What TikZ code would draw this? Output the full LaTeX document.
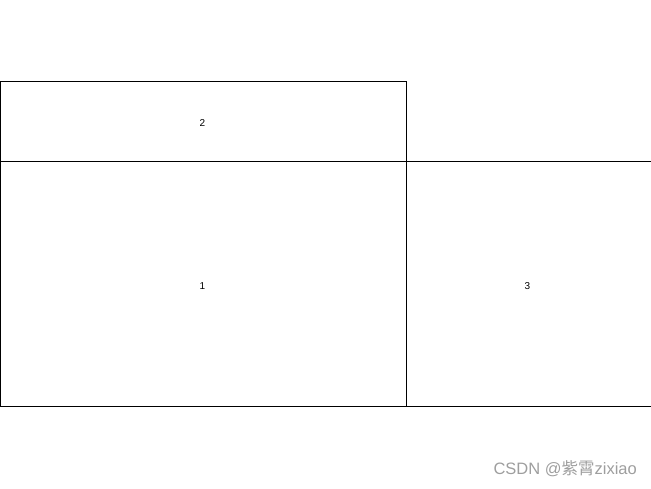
\documentclass[tikz,border=0pt]{standalone}
\usepackage{fontspec}
\setmainfont{Liberation Sans}
\newfontfamily\cjkfont{Noto Sans CJK SC}
\begin{document}
\begin{tikzpicture}[x=1pt,y=-1pt,
  box/.style={draw=black,line width=1pt,inner sep=0pt,outer sep=0pt,anchor=north west},
  lbl/.style={font=\fontsize{10}{11}\selectfont,inner sep=0pt},
  edge/.style={draw=black,line width=1pt},
  wm/.style={font=\fontsize{16.5}{18}\selectfont,text=black!38,inner sep=0pt,anchor=east}]
\useasboundingbox (0,0) rectangle (651,488);
\clip (0,0) rectangle (651,488);
\node[box,minimum width=405.5pt,minimum height=80.5pt] (r2) at (0.5,81) {};
\node[box,minimum width=405.5pt,minimum height=244.5pt] (r1) at (0.5,161.5) {};
\coordinate (t3) at (660,161.5);
\coordinate (b3) at (660,406);
\draw[edge] (r1.north east) -- (t3);
\draw[edge] (r1.south east) -- (b3);
\node[lbl] (l2) at (202.5,123) {2};
\node[lbl] (l1) at (202.5,286) {1};
\node[lbl] (l3) at (527.5,286) {3};
\node[wm] (w) at (637,469) {CSDN @{\cjkfont 紫霄}zixiao};
\end{tikzpicture}
\end{document}
